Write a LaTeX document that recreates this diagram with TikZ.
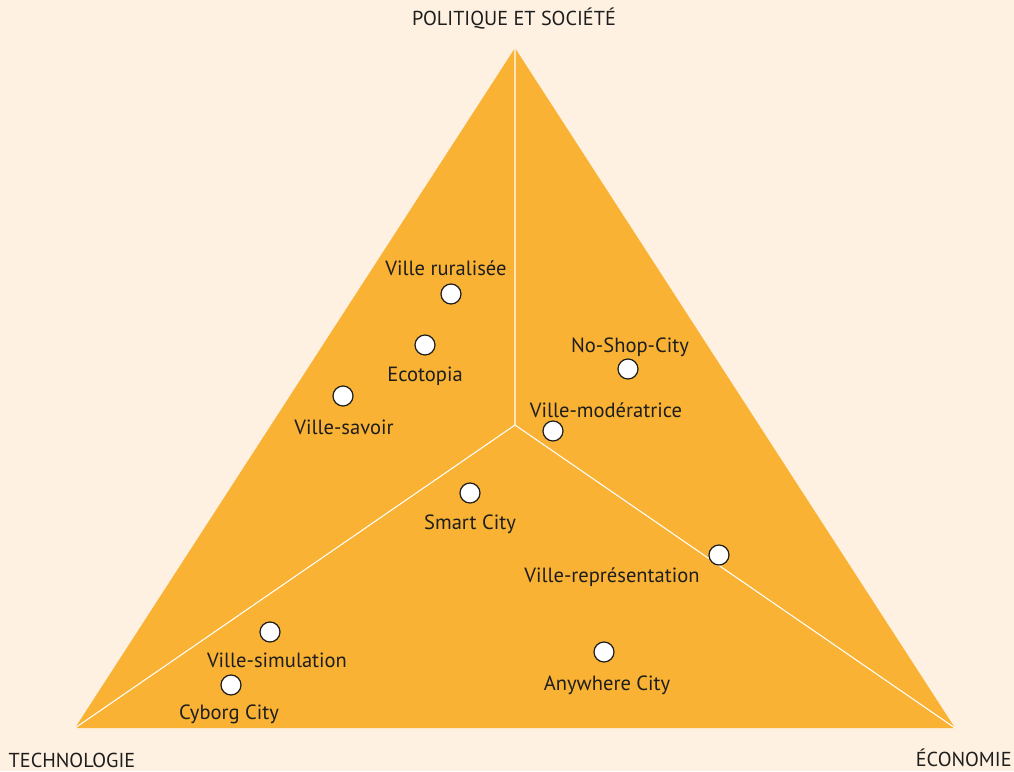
\documentclass[tikz,border=0pt]{standalone}
\usepackage{fontspec}
\setmainfont{PT Sans}
\definecolor{cream}{HTML}{FFF1E1}
\definecolor{amber}{HTML}{F9B233}
\definecolor{ink}{HTML}{1E1E1E}

\begin{document}
\begin{tikzpicture}[x=0.02cm,y=-0.02cm,
        font=\fontsize{11.7}{13}\selectfont,text=ink,
        city/.style={draw=ink,circle,fill=white,line width=0.7pt,minimum size=0.4cm,inner sep=0pt},
        lbl/.style={inner sep=0pt},
        pole/.style={inner sep=0pt,font=\fontsize{11.5}{13}\selectfont}]

    \fill[cream] (0,0) rectangle (1014,771);

    % triangle and axes
    \coordinate (top) at (515,48);
    \coordinate (left) at (75,728);
    \coordinate (right) at (955,728);
    \coordinate (mid) at (515,425);
    \fill[amber] (top) -- (left) -- (right) -- cycle;
    \draw[white,line width=0.6pt] (mid) -- (top) (mid) -- (left) (mid) -- (right);

    \node[pole] (pol) at (514,19) {POLITIQUE ET SOCIÉTÉ};
    \node[pole] (tech) at (72,760) {TECHNOLOGIE};
    \node[pole,anchor=east] (eco) at (1012,758) {ÉCONOMIE};

    % cities
    \node[city] (rur) at (451,294) {};
    \node[lbl] at (446,268) {Ville ruralisée};
    \node[city] (eto) at (425,345) {};
    \node[lbl] at (425,376) {Ecotopia};
    \node[city] (sav) at (343,396) {};
    \node[lbl] at (344,427) {Ville-savoir};
    \node[city] (nos) at (628,369) {};
    \node[lbl] at (630,347) {No-Shop-City};
    \node[city] (mod) at (553,431) {};
    \node[lbl] at (606,410) {Ville-modératrice};
    \node[city] (sma) at (470,493) {};
    \node[lbl] at (470,524) {Smart City};
    \node[city] (rep) at (719,555) {};
    \node[lbl] at (612,577) {Ville-représentation};
    \node[city] (any) at (604,652) {};
    \node[lbl] at (607,685) {Anywhere City};
    \node[city] (sim) at (270,632) {};
    \node[lbl] at (277,660) {Ville-simulation};
    \node[city] (cyb) at (231,685) {};
    \node[lbl] at (229,714) {Cyborg City};
\end{tikzpicture}
\end{document}
